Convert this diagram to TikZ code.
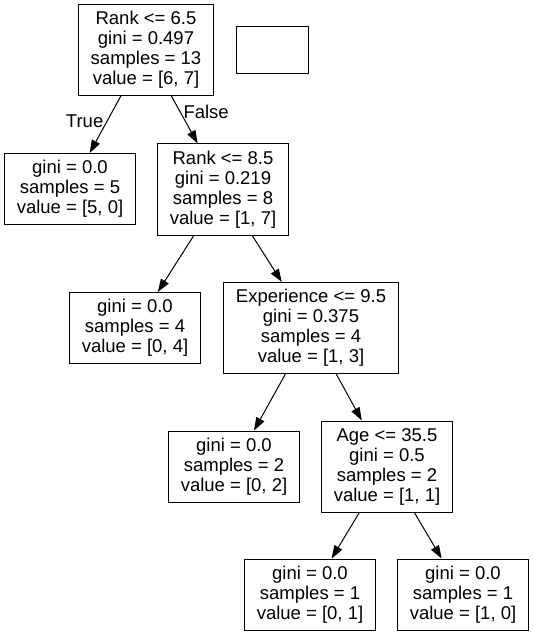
\documentclass[tikz,border=0pt]{standalone}
\usepackage{fontspec}
\setmainfont{Liberation Sans}
\usetikzlibrary{arrows.meta, positioning}

\begin{document}
\begin{tikzpicture}[x=1pt, y=-1pt,
  every node/.style={font=\fontsize{18.5}{20}\selectfont},
  split/.style={draw, line width=1pt, align=center, inner xsep=12pt,
                minimum width=130pt, minimum height=91pt},
  leaf/.style={split, minimum height=71pt},
  edge/.style={line width=1pt, -{Triangle[length=13pt, width=9pt]}},
  lbl/.style={inner sep=3pt}]
\useasboundingbox (0,0) rectangle (533,636);
%
\node[split] (rank1) at (146,50) {Rank <= 6.5\\ gini = 0.497\\ samples = 13\\ value = [6, 7]};
\node[draw, line width=1pt, minimum width=72pt, minimum height=47pt] (blank) at (272,50.5) {};
%
\node[leaf]  (leaf5) at (70,189)    {gini = 0.0\\ samples = 5\\ value = [5, 0]};
\node[split] (rank2) at (223,189.5) {Rank <= 8.5\\ gini = 0.219\\ samples = 8\\ value = [1, 7]};
%
\node[leaf]  (leaf4) at (135,328)   {gini = 0.0\\ samples = 4\\ value = [0, 4]};
\node[split] (exp)   at (311,328)   {Experience <= 9.5\\ gini = 0.375\\ samples = 4\\ value = [1, 3]};
%
\node[leaf]  (leaf2) at (234,466.5) {gini = 0.0\\ samples = 2\\ value = [0, 2]};
\node[split] (age)   at (387,466.5) {Age <= 35.5\\ gini = 0.5\\ samples = 2\\ value = [1, 1]};
%
\node[leaf]  (leaf01) at (310,594.5) {gini = 0.0\\ samples = 1\\ value = [0, 1]};
\node[leaf]  (leaf10) at (463,594.5) {gini = 0.0\\ samples = 1\\ value = [1, 0]};
%
\draw[edge] (rank1) -- node[lbl, pos=0.45, left] (true) {True} (leaf5);
\draw[edge] (rank1) -- node[lbl, pos=0.33, right] (false) {False} (rank2);
\draw[edge] (rank2) -- (leaf4);
\draw[edge] (rank2) -- (exp);
\draw[edge] (exp) -- (leaf2);
\draw[edge] (exp) -- (age);
\draw[edge] (age) -- (leaf01);
\draw[edge] (age) -- (leaf10);
%
\end{tikzpicture}
\end{document}
